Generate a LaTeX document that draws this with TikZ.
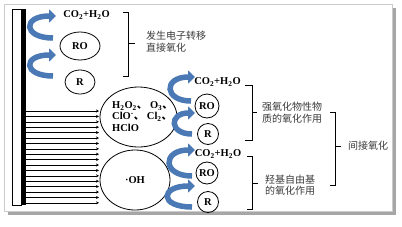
\documentclass[tikz,border=0pt]{standalone}
\usepackage{fontspec}
\setmainfont{Liberation Serif}
\newfontfamily\cjk{Noto Sans CJK SC}
\usepackage{tikz}
\usetikzlibrary{positioning,arrows.meta,shapes.geometric}
\definecolor{curlblue}{HTML}{4A79B5}
\definecolor{notegray}{HTML}{3A3A3A}
\tikzset{
  bub/.style={ellipse, draw, line width=0.8pt, inner sep=0pt},
  mol/.style={font=\fontsize{10.5}{11.5}\selectfont\bfseries, inner sep=0pt, align=left},
  note/.style={font=\cjk\fontsize{10}{11.5}\selectfont, text=notegray, inner sep=0pt},
  curl/.style={line width=5.5pt, draw=curlblue, -{Triangle[width=13pt,length=7pt]}},
  brk/.style={line width=0.8pt},
  hit/.style={line width=0.6pt, -{Stealth[length=3pt,width=3pt]}}
}
\begin{document}
\begin{tikzpicture}[x=1pt,y=-1pt]
\useasboundingbox (0,0) rectangle (402,226);
% frame with shadow
\fill[black!35] (8,8) rectangle (396,215);
\draw[black!20, fill=white] (4,4) rectangle (392,211);
% electrode
\draw[line width=0.6pt, fill=white] (12,9) rectangle (21,205);
\fill (21,9) rectangle (26,205);
\foreach \k in {0,...,17}
  \draw[hit] (26,111+\k*5.4) -- (99,111+\k*5.4);
% direct oxidation
\node[mol] (co2a) at (86.5,15) {CO\textsubscript{2}+H\textsubscript{2}O};
\node[bub, mol, minimum width=40pt, minimum height=28pt] (roa) at (80,46) {RO};
\node[bub, mol, minimum width=30pt, minimum height=24pt] (ra) at (80,82) {R};
% oxidants
\node[bub, minimum width=77pt, minimum height=60pt] (ox) at (138.5,117) {};
\node[mol, anchor=west] (oxt) at (112,116.5) {H\textsubscript{2}O\textsubscript{2}{\cjk 、} O\textsubscript{3}{\cjk 、}\\ClO\textsuperscript{-}{\cjk 、} Cl\textsubscript{2}{\cjk 、}\\HClO};
\node[bub, mol, minimum width=70pt, minimum height=60pt] (oh) at (135,180) {·OH};
% indirect oxidation
\node[mol] (co2b) at (217.5,82) {CO\textsubscript{2}+H\textsubscript{2}O};
\node[bub, mol, circle, minimum size=24pt] (rob) at (207,106) {RO};
\node[bub, mol, circle, minimum size=21pt] (rb) at (208,134) {R};
\node[mol] (co2c) at (218,154) {CO\textsubscript{2}+H\textsubscript{2}O};
\node[bub, mol, circle, minimum size=22pt] (roc) at (207,173) {RO};
\node[bub, mol, circle, minimum size=21pt] (rc) at (208,202) {R};
% labels
\node[note, anchor=west, align=left] (direct) at (146,41.5) {发生电子转移\\[1pt]直接氧化};
\node[note, anchor=west, align=left] (strong) at (262,112.5) {强氧化物性物\\质的氧化作用};
\node[note, align=center] (radical) at (290,185) {羟基自由基\\的氧化作用};
\node[note, anchor=west] (indirect) at (348,146) {间接氧化};
% brackets
\draw[brk] (123,12) -- (128,12) -- (128,76) -- (123,76);
\draw[brk] (128,43) -- (135,43);
\draw[brk] (245,85) -- (252,85) -- (252,140) -- (245,140);
\draw[brk] (252,112.5) -- (257,112.5);
\draw[brk] (247,156) -- (252,156) -- (252,209) -- (247,209);
\draw[brk] (252,183) -- (258,183);
\draw[brk] (330,112) -- (335,112) -- (335,185) -- (330,185);
\draw[brk] (335,146) -- (341,146);
% curled arrows
\coordinate (a1t) at (53,38);  \coordinate (a1h) at (56,16);
\coordinate (a2t) at (53,76);  \coordinate (a2h) at (56,55);
\coordinate (b1t) at (191,101); \coordinate (b1h) at (195,77);
\coordinate (b2t) at (192,134); \coordinate (b2h) at (195,113);
\coordinate (b3t) at (192,176); \coordinate (b3h) at (195,150);
\coordinate (b4t) at (192,207); \coordinate (b4h) at (195,186);
\draw[curl] (a1t) .. controls +(-30,0) and +(-34,0) .. (a1h);
\draw[curl] (a2t) .. controls +(-30,0) and +(-34,0) .. (a2h);
\draw[curl] (b1t) .. controls +(-27,0) and +(-32,0) .. (b1h);
\draw[curl] (b2t) .. controls +(-23,0) and +(-26,0) .. (b2h);
\draw[curl] (b3t) .. controls +(-30,0) and +(-33,0) .. (b3h);
\draw[curl] (b4t) .. controls +(-33,0) and +(-35,0) .. (b4h);
\end{tikzpicture}
\end{document}
